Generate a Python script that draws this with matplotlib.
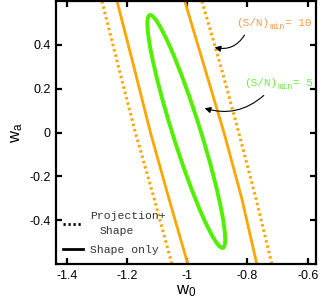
import numpy as np
import matplotlib
matplotlib.use("Agg")
import matplotlib.pyplot as plt
from matplotlib.patches import Ellipse

plt.rcParams["font.family"] = ["Liberation Sans", "DejaVu Sans"]
plt.rcParams["mathtext.fontset"] = "custom"
plt.rcParams["mathtext.rm"] = "Liberation Sans"
plt.rcParams["mathtext.it"] = "Liberation Sans"

# wa levels at which the constraint lines were read
wa_pts = [0.6, 0.3, 0.0, -0.3, -0.6]
# (S/N)min = 10 : projection+shape (dotted) and shape only (solid)
w0_proj_left = [-1.283, -1.228, -1.172, -1.110, -1.051]
w0_proj_right = [-0.951, -0.888, -0.829, -0.772, -0.719]
w0_shape_left = [-1.233, -1.177, -1.122, -1.061, -0.998]
w0_shape_right = [-1.008, -0.943, -0.878, -0.819, -0.769]
# (S/N)min = 5 : closed contour (centre, major, minor, angle in data units)
ell_center = (-1.003, 0.005)
ell_major = 1.09
ell_minor = 0.094
ell_angle = -77.2

xticks = [-1.4, -1.2, -1.0, -0.8, -0.6]
xticklabels = ["-1.4", "-1.2", "-1", "-0.8", "-0.6"]
yticks = [-0.4, -0.2, 0.0, 0.2, 0.4]
yticklabels = ["-0.4", "-0.2", "0", "0.2", "0.4"]
snr_labels = ["10", "5"]

orange = "#ffa500"
green = "#50f000"

fig = plt.figure(figsize=(3.2, 3.04), dpi=100)
ax = fig.add_axes([0.175, 0.1316, 0.8125, 0.8654])

ax.plot(w0_proj_left, wa_pts, color=orange, lw=2.2, ls=(0, (0.8, 1.0)))
ax.plot(w0_proj_right, wa_pts, color=orange, lw=2.2, ls=(0, (0.8, 1.0)))
ax.plot(w0_shape_left, wa_pts, color=orange, lw=2.0)
ax.plot(w0_shape_right, wa_pts, color=orange, lw=2.0)

ax.add_patch(Ellipse(ell_center, ell_major, ell_minor, angle=ell_angle,
                     fill=False, edgecolor=green, lw=2.8))

ax.set_xlim(-1.4355, -0.5725)
ax.set_ylim(-0.6, 0.601)
ax.set_xticks(xticks)
ax.set_xticklabels(xticklabels)
ax.set_yticks(yticks)
ax.set_yticklabels(yticklabels)
ax.tick_params(direction="in", length=4, width=1.6, labelsize=9,
               top=True, right=True, pad=4)
for s in ax.spines.values():
    s.set_linewidth(1.6)

ax.set_xlabel(r"$\mathrm{w_0}$", fontsize=12, labelpad=1)
ax.set_ylabel(r"$\mathrm{w_a}$", fontsize=12, labelpad=3)


def snr_text(x, y, value, color):
    # "(S/N)" + subscript "min" + "= value" in a typewriter face
    fs, fs_sub = 8.0, 6.2
    kw = dict(family="Liberation Mono", color=color, va="baseline",
              ha="left", textcoords="offset points", xycoords="data")
    ax.annotate("(S/N)", xy=(x, y), xytext=(0, 0), fontsize=fs, **kw)
    w_main = 5 * 0.6 * fs
    ax.annotate("min", xy=(x, y), xytext=(w_main, -2.4), fontsize=fs_sub,
                **kw)
    w_sub = 3 * 0.6 * fs_sub
    ax.annotate("= " + value, xy=(x, y), xytext=(w_main + w_sub, 0),
                fontsize=fs, **kw)


snr_text(-0.8385, 0.487, snr_labels[0], "#ff9a50")
ax.annotate("", xy=(-0.918, 0.392), xytext=(-0.805, 0.456),
            arrowprops=dict(arrowstyle="-|>", color="black", lw=0.8,
                            mutation_scale=9,
                            connectionstyle="arc3,rad=-0.4"))
snr_text(-0.812, 0.214, snr_labels[1], "#70ec40")
ax.annotate("", xy=(-0.951, 0.115), xytext=(-0.739, 0.178),
            arrowprops=dict(arrowstyle="-|>", color="black", lw=0.8,
                            mutation_scale=9,
                            connectionstyle="arc3,rad=-0.3"))

# hand-made legend
ax.plot([-1.412, -1.346], [-0.417, -0.417], color="black", lw=2.0,
        ls=(0, (0.8, 1.0)))
ax.plot([-1.412, -1.346], [-0.531, -0.531], color="black", lw=2.0)
mono = dict(family="Liberation Mono", fontsize=8.2, color="#333333",
            va="center", ha="left")
ax.text(-1.323, -0.381, "Projection+", **mono)
ax.text(-1.290, -0.449, "Shape", **mono)
ax.text(-1.323, -0.535, "Shape only", **mono)

fig.savefig("out.png", dpi=100)
